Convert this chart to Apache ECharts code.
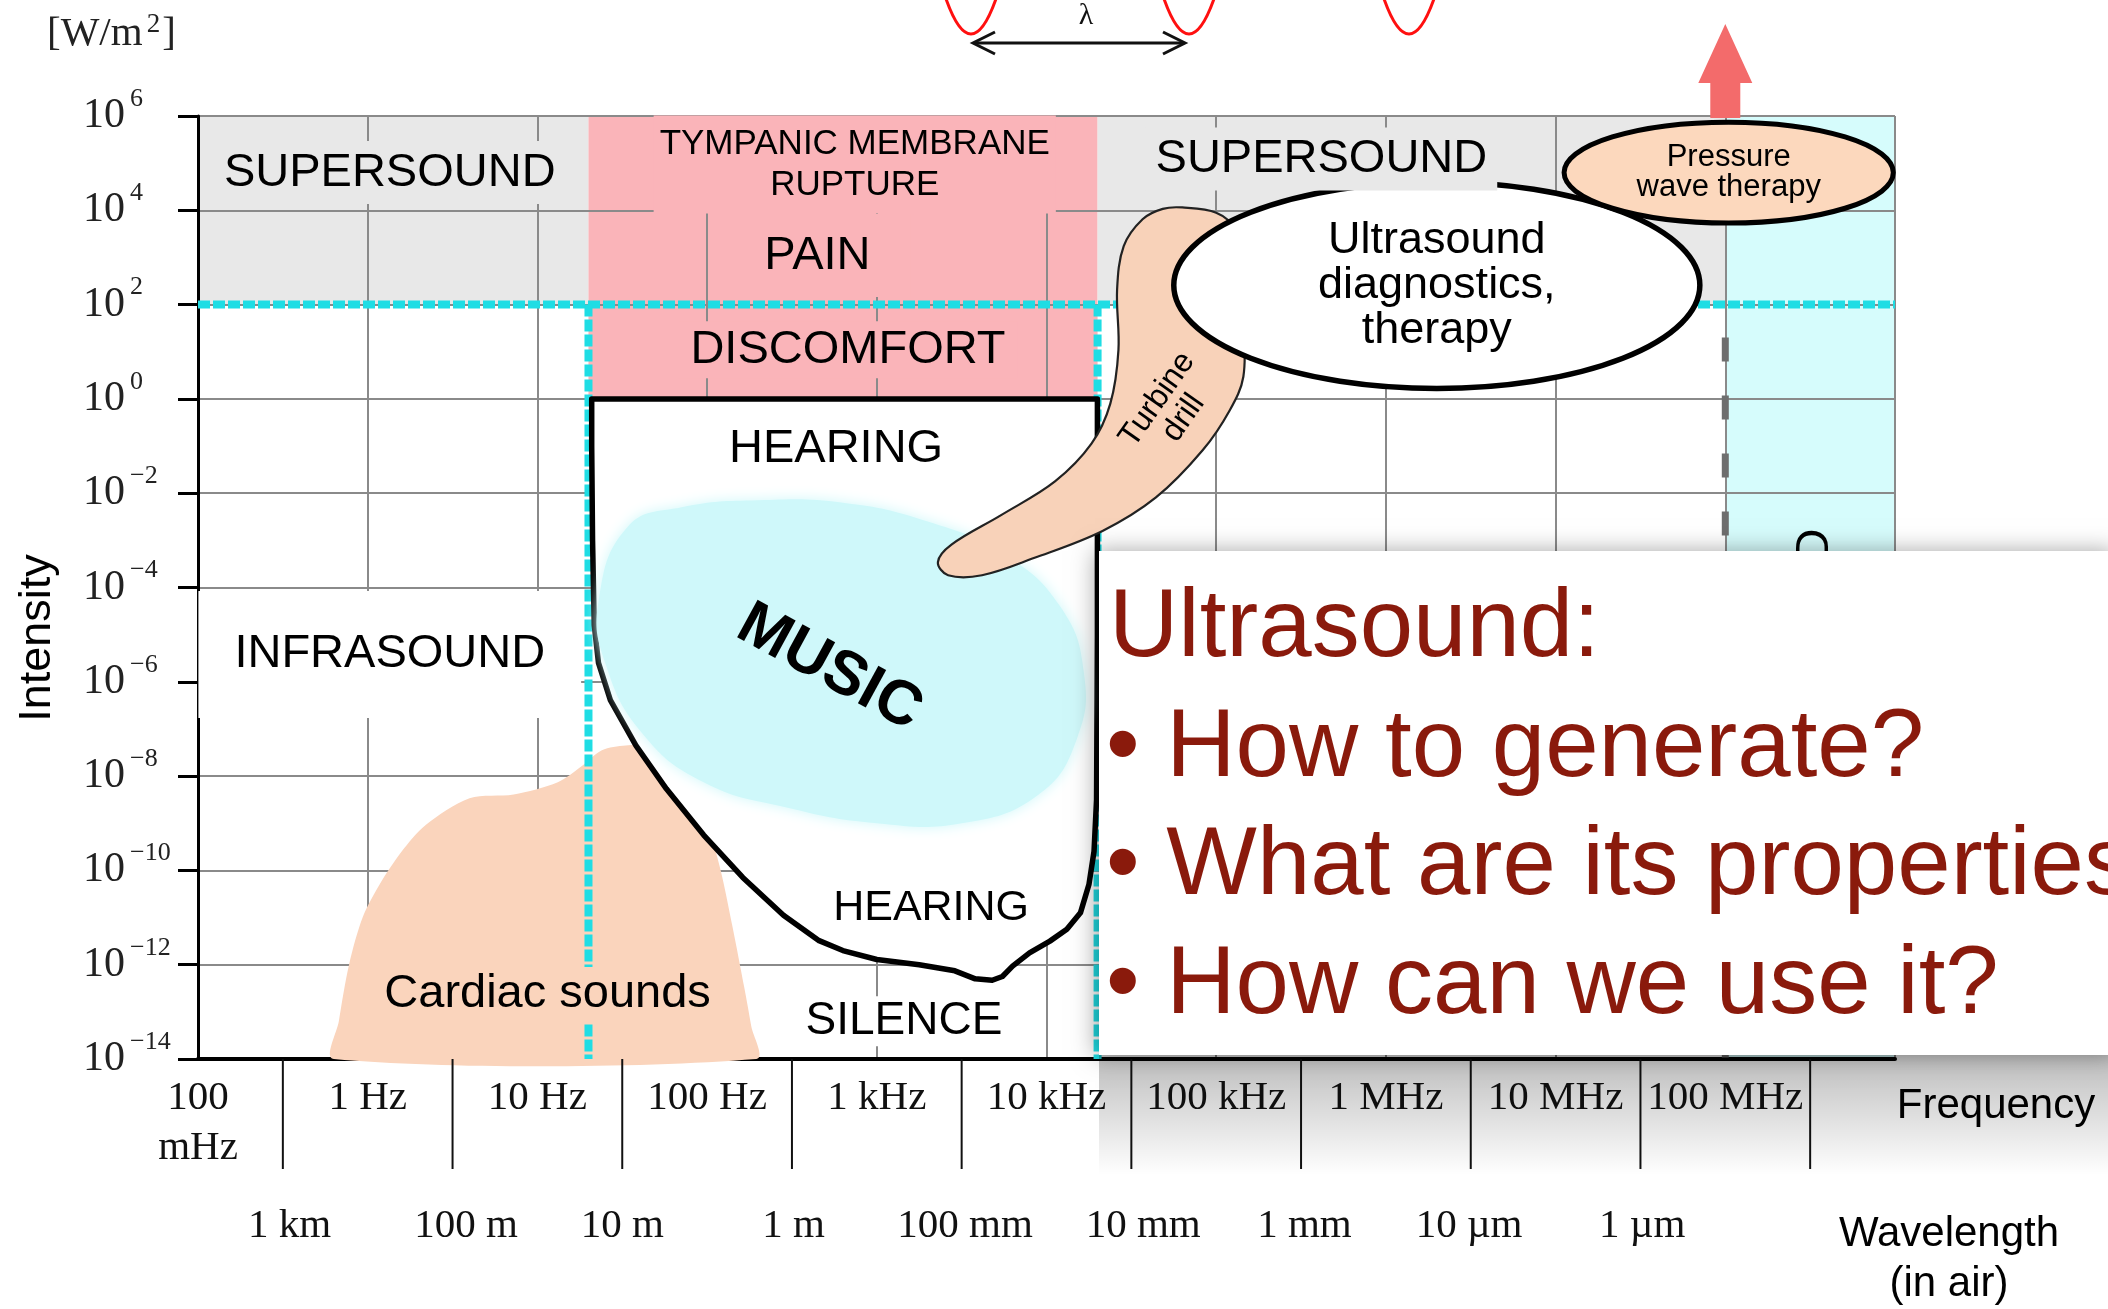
<!DOCTYPE html>
<html>
<head>
<meta charset="utf-8">
<title>Sound: intensity vs frequency</title>
<script src="https://cdn.jsdelivr.net/npm/echarts@6.0.0/dist/echarts.min.js"></script>
<style>
  html, body { margin: 0; padding: 0; background: #fff; }
  #main { width: 2108px; height: 1309px; }
</style>
</head>
<body>
<div id="main"></div>
<script>
// x = log10(frequency / Hz), y = log10(intensity / W m^-2)
const freqTicks = [-1, 0, 1, 2, 3, 4, 5, 6, 7, 8, 9];
const freqLabels = ['100\nmHz', '1 Hz', '10 Hz', '100 Hz', '1 kHz', '10 kHz', '100 kHz', '1 MHz', '10 MHz', '100 MHz', ''];
const freqSeparators = [-0.5, 0.5, 1.5, 2.5, 3.5, 4.5, 5.5, 6.5, 7.5, 8.5];
const waveLabels = ['1 km', '100 m', '10 m', '1 m', '100 mm', '10 mm', '1 mm', '10 µm', '1 µm'];
const wavePos = [-0.46, 0.58, 1.5, 2.51, 3.52, 4.57, 5.52, 6.49, 7.51];

// zones [f0, f1, i0, i1]: supersound (left), pain, supersound (right), >100 MHz
const zones = [[-1, 1.301, 2, 6], [1.301, 4.301, 0, 6], [4.301, 8, 2, 6], [8, 9, -14, 6]];
// dashed limits [f0, i0, f1, i1]: 10^2 W/m2, 20 Hz, 20 kHz
const limitLines = [[-1, 2, 9, 2], [1.301, 2, 1.301, -14], [4.301, 2, 4.301, -14]];
const hyperLine = [[8, 1.3, 8, -14]];

const hearingArea = [
  [1.32, 0], [4.30, 0], [4.30, -5], [4.295, -8.5], [4.28, -9.6], [4.25, -10.3], [4.20, -10.9],
  [4.12, -11.25], [4.02, -11.5], [3.90, -11.75], [3.80, -12.03], [3.74, -12.25], [3.68, -12.33],
  [3.58, -12.3], [3.46, -12.13], [3.25, -12.0], [3.0, -11.89], [2.80, -11.7], [2.66, -11.49],
  [2.45, -10.95], [2.21, -10.15], [1.98, -9.25], [1.76, -8.27], [1.58, -7.35], [1.43, -6.39],
  [1.36, -5.6], [1.335, -4.8], [1.325, -3], [1.32, -1]
];
const musicArea = [
  [1.53, -2.72], [1.85, -2.3], [2.3, -2.15], [2.8, -2.2], [3.3, -2.6], [3.75, -3.3], [4.08, -4.4],
  [4.22, -5.8], [4.18, -7.2], [3.95, -8.4], [3.5, -9.0], [3.0, -9.0], [2.45, -8.65], [1.98, -8.13],
  [1.62, -7.1], [1.40, -5.6], [1.36, -4.3]
];
const cardiacArea = [
  [-0.20, -14], [-0.17, -13.2], [-0.11, -12.0], [-0.03, -11.0], [0.07, -10.3], [0.2, -9.6],
  [0.34, -9.04], [0.6, -8.47], [0.86, -8.39], [1.12, -8.13], [1.26, -7.79], [1.38, -7.45],
  [1.52, -7.35], [1.65, -7.36], [1.78, -7.6], [1.9, -8.2], [2.0, -9.0], [2.08, -10.0],
  [2.15, -11.2], [2.22, -12.5], [2.26, -13.3], [2.29, -14]
];
const turbineArea = [
  [4.80, 4.06], [5.00, 3.95], [5.10, 3.61], [5.16, 1.61], [5.16, 0.47], [5.08, -0.24], [4.92, -1.09],
  [4.645, -2.09], [4.33, -2.80], [3.93, -3.37], [3.62, -3.74], [3.42, -3.74], [3.36, -3.46],
  [3.44, -3.09], [3.735, -2.46], [4.05, -1.75], [4.265, -0.95], [4.376, -0.10], [4.424, 1.04],
  [4.416, 2.32], [4.455, 3.24], [4.566, 3.81], [4.685, 4.03]
];
// bubbles [centre f, centre i, half width, half height] in decades
const bubbles = [[6.30, 2.41, 1.55, 2.19], [8.02, 4.80, 0.97, 1.07]];
const bubbleLabels = ['Ultrasound\ndiagnostics,\ntherapy', 'Pressure\nwave therapy'];
const arrowBase = [[8, 6]];

const regionLabels = ['SUPERSOUND', 'TYMPANIC MEMBRANE\nRUPTURE', 'PAIN', 'DISCOMFORT', 'SUPERSOUND',
  'HEARING', 'INFRASOUND', 'Cardiac sounds', 'HEARING', 'SILENCE', 'MUSIC', 'Turbine\ndrill', 'HYPERSOUND'];
const regionLabelPos = [[0.13, 4.80], [2.87, 4.97], [2.65, 3.04], [2.83, 1.04], [5.62, 5.09],
  [2.76, -1.07], [0.13, -5.42], [1.06, -12.63], [3.32, -10.81], [3.16, -13.2], [2.72, -5.71],
  [4.73, -0.21], [8.53, -2.75]];

const serif = '"Liberation Serif", "DejaVu Serif", serif';
const sans = '"Liberation Sans", Arial, "DejaVu Sans", sans-serif';
const grey = '#e8e8e8', pink = '#fab4b9', cyanFill = '#d6fcfc', peach = '#fad4bc';

const labelLook = [
  { size: 47, bg: grey, pad: [8, 10] },
  { size: 35, bg: pink, pad: [8, 6], lh: 41 },
  { size: 47, bg: pink, pad: [18, 40] },
  { size: 47, bg: pink, pad: [5, 12] },
  { size: 47, bg: grey, pad: [8, 10] },
  { size: 47 },
  { size: 47, bg: '#fff', pad: [40, 36] },
  { size: 47, bg: peach, pad: [4, 6] },
  { size: 43 },
  { size: 46, bg: '#fff', pad: [2, 8] },
  { size: 62, weight: 'bold', rot: -0.5 },
  { size: 32, rot: 0.96, lh: 32 },
  { size: 47, rot: Math.PI / 2, align: 'right' }
];

function areaSeries(points, z, style, smooth) {
  return {
    type: 'custom', z: z, silent: true, data: points,
    renderItem: function (params, api) {
      if (params.dataIndex !== 0) return;
      return {
        type: 'polygon',
        shape: { points: points.map(function (p) { return api.coord(p); }), smooth: smooth || 0 },
        style: style
      };
    }
  };
}

function dashSeries(lines, z, style) {
  return {
    type: 'custom', z: z, silent: true, data: lines,
    renderItem: function (params, api) {
      const a = api.coord([api.value(0), api.value(1)]);
      const b = api.coord([api.value(2), api.value(3)]);
      return { type: 'line', shape: { x1: a[0], y1: a[1], x2: b[0], y2: b[1] }, style: style };
    }
  };
}

const zoneColors = [grey, pink, grey, cyanFill];

const chart = echarts.init(document.getElementById('main'));

const option = {
  animation: false,
  backgroundColor: '#fff',
  grid: { left: 198, right: 213, top: 116, bottom: 250 },
  xAxis: {
    type: 'value', min: -1, max: 9, interval: 1, z: 2,
    axisLine: { show: true, onZero: false, lineStyle: { color: '#000', width: 4 } },
    axisTick: { show: false },
    splitLine: { show: true, lineStyle: { color: '#8a8a8a', width: 2 } },
    axisLabel: {
      formatter: function (v) { const i = freqTicks.indexOf(v); return i < 0 ? '' : freqLabels[i]; },
      fontFamily: serif, fontSize: 41, lineHeight: 50, color: '#111', margin: 14
    }
  },
  yAxis: {
    type: 'value', min: -14, max: 6, interval: 2, z: 2,
    axisLine: { show: true, onZero: false, lineStyle: { color: '#000', width: 3 } },
    axisTick: { show: true, length: 20, lineStyle: { color: '#000', width: 3 } },
    splitLine: { show: true, lineStyle: { color: '#8a8a8a', width: 2 } },
    axisLabel: {
      align: 'left', margin: 115,
      formatter: function (v) { return '{b|10}{s|' + (v < 0 ? '\u2212' + Math.abs(v) : v) + '}'; },
      rich: {
        b: { fontFamily: serif, fontSize: 42, color: '#222', lineHeight: 60, verticalAlign: 'middle' },
        s: { fontFamily: serif, fontSize: 26, color: '#222', lineHeight: 26, verticalAlign: 'top', padding: [0, 0, 0, 5] }
      }
    }
  },
  series: [
    {
      type: 'custom', z: 1, silent: true, data: zones,
      renderItem: function (params, api) {
        const p0 = api.coord([api.value(0), api.value(3)]);
        const p1 = api.coord([api.value(1), api.value(2)]);
        return {
          type: 'rect',
          shape: { x: p0[0], y: p0[1], width: p1[0] - p0[0], height: p1[1] - p0[1] },
          style: { fill: zoneColors[params.dataIndex] }
        };
      }
    },
    areaSeries(cardiacArea, 3, { fill: peach }, 0.3),
    dashSeries(limitLines, 4, { stroke: '#1fdde4', lineWidth: 8, lineDash: [12, 3] }),
    dashSeries(hyperLine, 4, { stroke: '#6e6e6e', lineWidth: 7, lineDash: [24, 34] }),
    areaSeries(hearingArea, 5, { fill: '#fff', stroke: '#000', lineWidth: 5.5, lineJoin: 'round' }, 0),
    areaSeries(musicArea, 6, { fill: '#cff8fa', shadowBlur: 14, shadowColor: '#cff8fa' }, 0.45),
    areaSeries(turbineArea, 7, { fill: '#f8d2b9', stroke: '#222', lineWidth: 2.2 }, 0.35),
    {
      type: 'custom', z: 7, silent: true, data: arrowBase,
      renderItem: function (params, api) {
        const b = api.coord([api.value(0), api.value(1)]);
        const x = b[0], y = b[1];
        return {
          type: 'polygon',
          shape: { points: [[x - 15, y + 2], [x - 15, y - 33], [x - 27, y - 33], [x, y - 92],
            [x + 27, y - 33], [x + 15, y - 33], [x + 15, y + 2]] },
          style: { fill: '#f36b6b' }
        };
      }
    },
    {
      type: 'custom', z: 8, silent: true, data: bubbles,
      renderItem: function (params, api) {
        const c = api.coord([api.value(0), api.value(1)]);
        const s = api.size([api.value(2), api.value(3)]);
        const w = s[0], h = s[1];
        const d = 'M' + (c[0] - w) + ',' + c[1] + 'A' + w + ',' + h + ',0,1,0,' + (c[0] + w) + ',' + c[1] +
          'A' + w + ',' + h + ',0,1,0,' + (c[0] - w) + ',' + c[1] + 'Z';
        const first = params.dataIndex === 0;
        return {
          type: 'group',
          children: [
            { type: 'path', shape: { pathData: d },
              style: { fill: first ? '#fff' : '#fcd8bd', stroke: '#000', lineWidth: first ? 5.5 : 5 } },
            { type: 'text', x: c[0], y: c[1],
              style: { text: bubbleLabels[params.dataIndex], fontFamily: sans, fontSize: first ? 45 : 31,
                lineHeight: first ? 45 : 30, fill: '#000', align: 'center', verticalAlign: 'middle' } }
          ]
        };
      }
    },
    {
      type: 'custom', z: 9, silent: true, data: regionLabelPos,
      renderItem: function (params, api) {
        const i = params.dataIndex;
        const p = api.coord([api.value(0), api.value(1)]);
        const lk = labelLook[i];
        return {
          type: 'text', x: p[0], y: p[1], rotation: lk.rot || 0,
          style: {
            text: regionLabels[i], fontFamily: sans, fontSize: lk.size, fontWeight: lk.weight || 'normal',
            lineHeight: lk.lh, fill: '#000', align: lk.align || 'center', verticalAlign: 'middle',
            backgroundColor: lk.bg, padding: lk.pad
          }
        };
      }
    },
    {
      type: 'custom', z: 9, silent: true, data: freqSeparators.map(function (v) { return [v, -14]; }),
      renderItem: function (params, api) {
        const p = api.coord([api.value(0), api.value(1)]);
        return { type: 'line', shape: { x1: p[0], y1: p[1], x2: p[0], y2: p[1] + 110 },
          style: { stroke: '#111', lineWidth: 2 } };
      }
    },
    {
      type: 'custom', z: 9, silent: true, data: wavePos.map(function (v) { return [v, -14]; }),
      renderItem: function (params, api) {
        const p = api.coord([api.value(0), api.value(1)]);
        return { type: 'text', x: p[0], y: p[1] + 167,
          style: { text: waveLabels[params.dataIndex], fontFamily: serif, fontSize: 41, fill: '#111',
            align: 'center', verticalAlign: 'middle' } };
      }
    }
  ],
  graphic: [
    { type: 'text', x: 47, y: 34, style: { text: '[W/m{s|2}]', fontFamily: serif, fontSize: 41, fill: '#222',
        verticalAlign: 'middle',
        rich: { s: { fontFamily: serif, fontSize: 27, verticalAlign: 'top', padding: [0, 2, 18, 4], fill: '#222' } } } },
    { type: 'text', x: 38, y: 638, rotation: Math.PI / 2,
      style: { text: 'Intensity', fontFamily: sans, fontSize: 45, fill: '#000', align: 'center', verticalAlign: 'middle' } },
    { type: 'bezierCurve', shape: { x1: 945, y1: -4, cpx1: 971, cpy1: 72, x2: 997, y2: -4 },
      style: { stroke: '#ff1010', lineWidth: 3, fill: null } },
    { type: 'bezierCurve', shape: { x1: 1163, y1: -4, cpx1: 1189, cpy1: 72, x2: 1215, y2: -4 },
      style: { stroke: '#ff1010', lineWidth: 3, fill: null } },
    { type: 'bezierCurve', shape: { x1: 1383, y1: -4, cpx1: 1409, cpy1: 72, x2: 1435, y2: -4 },
      style: { stroke: '#ff1010', lineWidth: 3, fill: null } },
    { type: 'line', shape: { x1: 975, y1: 43, x2: 1183, y2: 43 }, style: { stroke: '#111', lineWidth: 3 } },
    { type: 'polyline', shape: { points: [[995, 32], [973, 43], [995, 54]] }, style: { stroke: '#111', lineWidth: 3, fill: null } },
    { type: 'polyline', shape: { points: [[1163, 32], [1185, 43], [1163, 54]] }, style: { stroke: '#111', lineWidth: 3, fill: null } },
    { type: 'text', x: 1086, y: 16, style: { text: '\u03bb', fontFamily: serif, fontSize: 30, fill: '#111', align: 'center', verticalAlign: 'middle' } },
    { type: 'text', x: 1996, y: 1106, style: { text: 'Frequency', fontFamily: sans, fontSize: 42, fill: '#000', align: 'center', verticalAlign: 'middle' } },
    { type: 'text', x: 1949, y: 1259, style: { text: 'Wavelength\n(in air)', fontFamily: sans, fontSize: 42, lineHeight: 50, fill: '#000', align: 'center', verticalAlign: 'middle' } },
    // slide overlay
    { type: 'rect', z: 99, shape: { x: 1099, y: 1055, width: 1010, height: 120 },
      style: { fill: { type: 'linear', x: 0, y: 0, x2: 0, y2: 1,
        colorStops: [{ offset: 0, color: 'rgba(0,0,0,0.26)' }, { offset: 1, color: 'rgba(0,0,0,0)' }] } } },
    { type: 'rect', z: 100, shape: { x: 1099, y: 551, width: 1020, height: 504 },
      style: { fill: '#fff', shadowBlur: 22, shadowOffsetX: -4, shadowColor: 'rgba(0,0,0,0.35)' } },
    { type: 'text', z: 101, x: 1109, y: 630, style: { text: 'Ultrasound:', fontFamily: sans, fontSize: 96, fill: '#8a1a0c', verticalAlign: 'middle' } },
    { type: 'text', z: 101, x: 1106, y: 750, style: { text: '\u2022 How to generate?', fontFamily: sans, fontSize: 96, fill: '#8a1a0c', verticalAlign: 'middle' } },
    { type: 'text', z: 101, x: 1106, y: 868, style: { text: '\u2022 What are its properties', fontFamily: sans, fontSize: 96, fill: '#8a1a0c', verticalAlign: 'middle' } },
    { type: 'text', z: 101, x: 1106, y: 987, style: { text: '\u2022 How can we use it?', fontFamily: sans, fontSize: 96, fill: '#8a1a0c', verticalAlign: 'middle' } }
  ]
};

chart.setOption(option);
</script>
</body>
</html>
